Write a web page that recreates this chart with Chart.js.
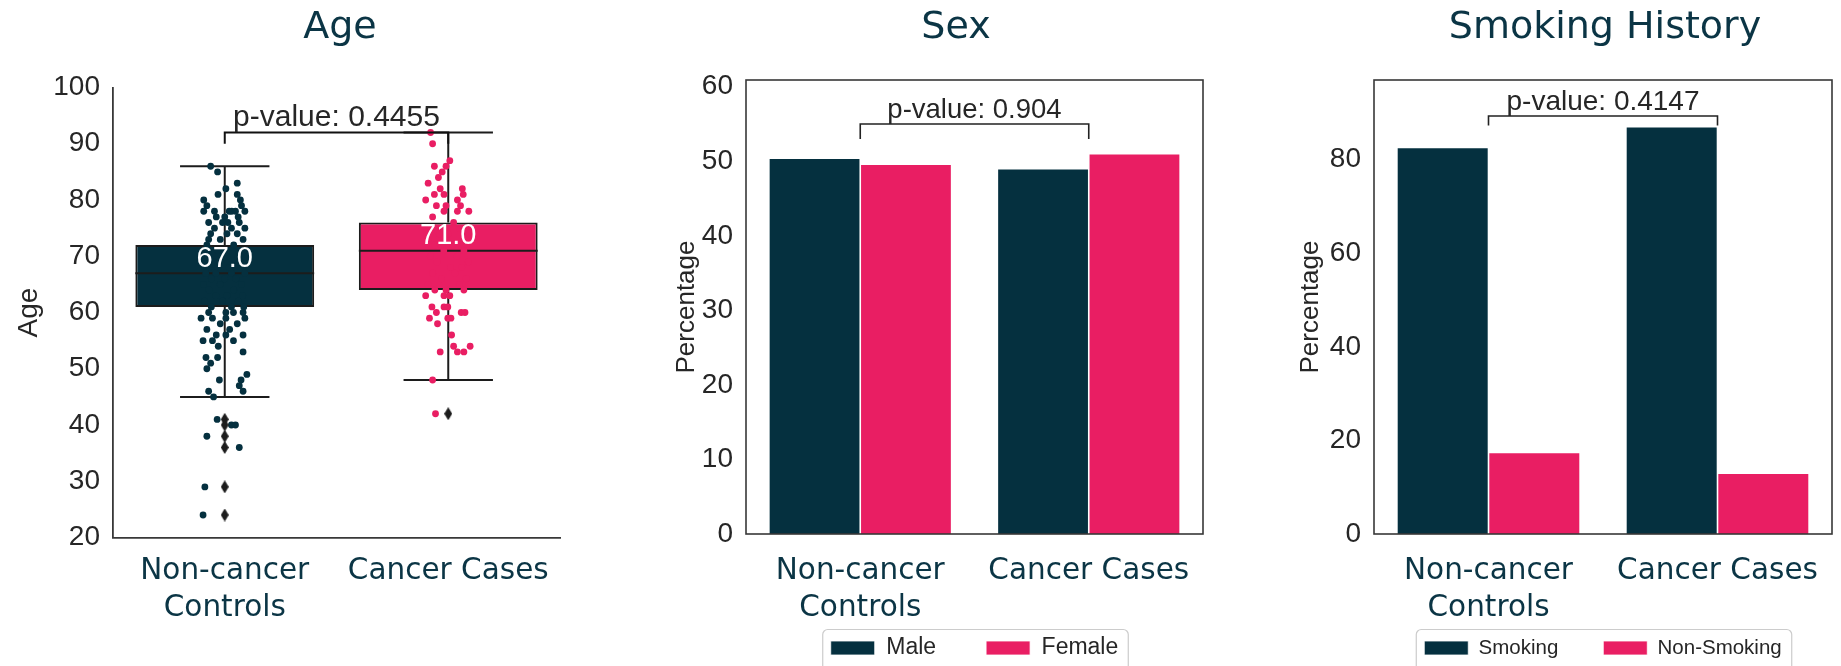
<!DOCTYPE html>
<html>
<head>
<meta charset="utf-8">
<script src="https://cdn.jsdelivr.net/npm/chart.js@4.4.1/dist/chart.umd.min.js"></script>
<style>
  html, body { margin: 0; padding: 0; background: #ffffff; width: 1841px; height: 666px; overflow: hidden; }
  canvas { position: absolute; top: 0; }
</style>
</head>
<body>
<canvas id="ageChart"></canvas>
<canvas id="sexChart"></canvas>
<canvas id="smokingChart"></canvas>
<script>
// ---------------- data ----------------
const groups = [['Non-cancer', 'Controls'], 'Cancer Cases'];

// Age: box statistics per group
const ageTicks = [20, 30, 40, 50, 60, 70, 80, 90, 100];
const ageQ1 = [61, 64];
const ageMedian = [67, 71];
const ageQ3 = [72, 76];
const ageWhiskerLow = [45, 48];
const ageWhiskerHigh = [86, 92];
const ageOutliers = [[41, 40, 38, 36, 29, 24], [42]];
const ageBracket = [90, 92];
const agePValue = 'p-value: 0.4455';

// Age: individual subjects, [horizontal jitter, age]
const controlAges = [
  [-0.063, 86], [-0.032, 85], [0.056, 83], [0.005, 82], [-0.030, 81], [0.056, 81], [-0.094, 80], [0.070, 80],
  [-0.080, 79], [0.075, 79], [-0.094, 78], [-0.046, 78], [0.020, 78], [0.031, 78], [0.048, 78], [0.090, 78],
  [-0.038, 77], [0.000, 77], [0.060, 77], [-0.072, 76], [-0.010, 76], [0.014, 76], [0.065, 76],
  [-0.046, 75], [0.030, 75], [0.090, 75], [-0.063, 74], [0.010, 74], [0.056, 74],
  [-0.072, 73], [-0.020, 73], [0.082, 73], [-0.080, 72], [0.040, 72], [-0.030, 71], [0.085, 71],
  [-0.090, 70], [0.010, 70], [0.060, 70], [-0.050, 69], [0.070, 69], [-0.070, 68], [0.020, 68],
  [-0.085, 67], [-0.040, 67], [0.030, 67], [0.090, 67], [-0.060, 66], [0.000, 66], [0.050, 66],
  [-0.095, 65], [-0.020, 65], [0.075, 65], [-0.070, 64], [0.040, 64], [-0.040, 63], [0.010, 63], [0.080, 63],
  [-0.090, 62], [-0.010, 62], [0.060, 62], [-0.060, 61], [0.030, 61], [0.085, 61],
  [-0.072, 60], [0.005, 60], [0.039, 60], [0.082, 60], [-0.106, 59], [-0.055, 59], [0.005, 59], [0.090, 59],
  [-0.020, 58], [0.056, 58], [-0.080, 57], [0.022, 57], [-0.038, 56], [0.005, 56], [0.082, 56],
  [-0.097, 55], [-0.055, 55], [0.039, 55], [-0.029, 54], [0.082, 53], [-0.084, 52], [-0.032, 52],
  [-0.063, 51], [-0.080, 50], [0.099, 49], [-0.024, 48], [0.073, 48], [0.065, 47], [-0.072, 46], [0.082, 46],
  [-0.050, 45], [-0.034, 41], [0.030, 40], [0.048, 40], [-0.080, 38], [0.065, 36], [-0.089, 29], [-0.097, 24]
];
const caseAges = [
  [-0.079, 92], [-0.070, 90], [0.007, 87], [-0.062, 86], [-0.010, 86], [-0.027, 85], [-0.044, 84], [-0.090, 83],
  [-0.036, 82], [0.063, 82], [-0.062, 81], [-0.019, 81], [0.067, 81], [-0.101, 80], [0.041, 80],
  [-0.053, 79], [-0.010, 79], [0.055, 79], [-0.019, 78], [0.041, 78], [0.092, 78], [-0.070, 77], [0.024, 76],
  [-0.080, 75], [0.050, 75], [-0.040, 74], [0.000, 74], [-0.090, 73], [0.080, 73], [-0.060, 72], [0.020, 72],
  [-0.020, 71], [0.070, 71], [-0.080, 70], [0.040, 70], [-0.050, 69], [0.090, 69], [0.010, 68], [0.060, 68],
  [-0.070, 67], [0.030, 67], [-0.030, 66], [0.080, 66], [-0.090, 65], [0.050, 65], [-0.060, 64], [-0.010, 64], [0.070, 64],
  [-0.101, 63], [-0.019, 63], [0.007, 63], [-0.073, 61], [-0.019, 61], [-0.002, 61], [-0.053, 60], [0.058, 60], [0.075, 60],
  [-0.084, 59], [-0.002, 59], [0.012, 59], [-0.048, 58], [0.015, 56], [0.024, 54], [0.098, 54],
  [-0.036, 53], [0.041, 53], [0.070, 53], [-0.070, 48], [-0.057, 42]
];

// Sex (percentage of each group)
const sexTicks = [0, 10, 20, 30, 40, 50, 60];
const sexMale = [50.4, 49.0];
const sexFemale = [49.6, 51.0];
const sexBracket = [53, 55];
const sexPValue = 'p-value: 0.904';

// Smoking history (percentage of each group)
const smokingTicks = [0, 20, 40, 60, 80];
const smoking = [82.6, 87.0];
const nonSmoking = [17.4, 13.0];
const smokingBracket = [87.3, 89.3];
const smokingPValue = 'p-value: 0.4147';

// ---------------- styling ----------------
const TEAL = '#05303f';
const PINK = '#e91e63';
const INK = '#0b3545';
const GREY = '#262626';
const SPINE = '#383838';
const BOX_EDGE = '#1c1c1c';
const SANS = '"Liberation Sans", Arial, sans-serif';
const VERDANA_LIKE = '"DejaVu Sans", Verdana, sans-serif';

const TITLE_SIZE = 38, TITLE_Y = 28;
const XTICK_SIZE = 29.5, XTICK_LH = 1.26, XTICK_FIRST_LINE_Y = 571.5;
const YTITLE_LH = 1.2;
const LEGEND_BOX_W = 44, LEGEND_BOX_H = 14;

// panel geometry on the page
const layoutAge   = { left: 0,    width: 600, areaLeft: 113,  areaRight: 560,  top: 87.5, bottom: 537.5,
                      titleX: 340,  yTitleX: 29,   yTitleSize: 28 };
const layoutSex   = { left: 600,  width: 640, areaLeft: 746,  areaRight: 1203, top: 80,   bottom: 534,
                      titleX: 956,  yTitleX: 687,  yTitleSize: 26, legendMidY: 648 };
const layoutSmoke = { left: 1240, width: 601, areaLeft: 1374, areaRight: 1832, top: 80,   bottom: 534,
                      titleX: 1605, yTitleX: 1311, yTitleSize: 26, legendMidY: 648 };

// thin diamond used for box-plot fliers
function thinDiamond(w, h, color) {
  const c = document.createElement('canvas');
  c.width = w; c.height = h;
  const g = c.getContext('2d');
  g.fillStyle = color;
  g.beginPath();
  g.moveTo(w / 2, 0); g.lineTo(w, h / 2); g.lineTo(w / 2, h); g.lineTo(0, h / 2);
  g.closePath(); g.fill();
  return c;
}
const flierMarker = thinDiamond(8, 13, BOX_EDGE);

// whiskers, caps and median segments of a box, separated by gaps
function boxSegments(i) {
  const gap = { x: i, y: null };
  return [
    { x: i - 0.4, y: ageMedian[i] }, { x: i + 0.4, y: ageMedian[i] }, gap,
    { x: i, y: ageQ3[i] }, { x: i, y: ageWhiskerHigh[i] }, gap,
    { x: i - 0.2, y: ageWhiskerHigh[i] }, { x: i + 0.2, y: ageWhiskerHigh[i] }, gap,
    { x: i, y: ageQ1[i] }, { x: i, y: ageWhiskerLow[i] }, gap,
    { x: i - 0.2, y: ageWhiskerLow[i] }, { x: i + 0.2, y: ageWhiskerLow[i] }, gap
  ];
}

function bracket(b) {
  return [{ x: 0, y: b[0] }, { x: 0, y: b[1] }, { x: 1, y: b[1] }, { x: 1, y: b[0] }];
}

const atGroups = values => values.map((v, i) => ({ x: i, y: v }));

// panel heading
const panelTitle = {
  id: 'panelTitle',
  afterDraw(chart, args, opts) {
    const ctx = chart.ctx;
    ctx.save();
    ctx.font = TITLE_SIZE + 'px ' + VERDANA_LIKE;
    ctx.fillStyle = INK;
    ctx.textAlign = 'center';
    ctx.textBaseline = 'middle';
    ctx.fillText(opts.text, opts.x, opts.y);
    ctx.restore();
  }
};

// p-value text above the bracket and median labels inside the boxes
const annotate = {
  id: 'annotate',
  afterDatasetsDraw(chart, args, opts) {
    const { ctx } = chart;
    const xs = chart.scales.x, ys = chart.scales.y;
    ctx.save();
    ctx.textAlign = 'center';
    ctx.textBaseline = 'bottom';
    if (opts.medians) {
      ctx.font = opts.medianSize + 'px ' + SANS;
      ctx.fillStyle = '#ffffff';
      opts.medians.forEach((m, i) => {
        ctx.fillText(m.toFixed(1), xs.getPixelForValue(i), ys.getPixelForValue(m));
      });
    }
    ctx.font = opts.size + 'px ' + SANS;
    ctx.fillStyle = GREY;
    ctx.fillText(opts.text, xs.getPixelForValue(0.5), ys.getPixelForValue(opts.bracketTop) + opts.lift);
    ctx.restore();
  }
};

// closed box around the plotting area
const plotFrame = {
  id: 'plotFrame',
  afterDatasetsDraw(chart, args, opts) {
    if (!opts.show) return;
    const a = chart.chartArea, ctx = chart.ctx;
    ctx.save();
    ctx.strokeStyle = SPINE;
    ctx.lineWidth = 1.6;
    ctx.strokeRect(a.left, a.top, a.right - a.left, a.bottom - a.top);
    ctx.restore();
  }
};

// legend sits just under the category labels, inside a rounded frame
const legendPlacement = {
  id: 'legendPlacement',
  beforeDraw(chart, args, opts) {
    const lg = chart.legend;
    if (!lg || !opts.midY || !lg.legendHitBoxes.length) return;
    const hb = lg.legendHitBoxes;
    const shift = opts.midY - (hb[0].top + hb[0].height / 2);
    lg.top += shift;
    lg.bottom += shift;
    hb.forEach(h => { h.top += shift; });
  },
  afterDraw(chart, args, opts) {
    const lg = chart.legend;
    if (!lg || !opts.midY || !lg.legendHitBoxes.length) return;
    const hb = lg.legendHitBoxes;
    const left = Math.min(...hb.map(h => h.left)) - 8;
    const right = Math.max(...hb.map(h => h.left + h.width)) + 10;
    const top = opts.midY - 18.5;
    const ctx = chart.ctx;
    ctx.save();
    ctx.strokeStyle = '#cccccc';
    ctx.lineWidth = 1.2;
    ctx.beginPath();
    ctx.roundRect(left, top, right - left, chart.height - top + 20, 5);
    ctx.stroke();
    ctx.restore();
  }
};

function buildPanel(canvasId, f, spec) {
  let legendH = 0, xAxisH, canvasH;
  if (spec.legend) {
    const itemH = Math.max(spec.legend.size, LEGEND_BOX_H);
    legendH = itemH + spec.legend.gap + 10;
    xAxisH = 110;
    canvasH = Math.ceil(f.bottom + xAxisH + legendH);
  } else {
    canvasH = 666;
    xAxisH = canvasH - f.bottom;
  }
  const canvas = document.getElementById(canvasId);
  canvas.width = f.width;
  canvas.height = canvasH;
  canvas.style.left = f.left + 'px';
  canvas.style.width = f.width + 'px';
  canvas.style.height = canvasH + 'px';

  const spineBorder = spec.openAxes
    ? { display: true, color: SPINE, width: 1.8 }
    : { display: false };

  return new Chart(canvas, {
    type: 'bar',
    data: { datasets: spec.datasets },
    options: {
      responsive: false,
      animation: false,
      events: [],
      devicePixelRatio: 1,
      layout: { padding: { left: 0, top: f.top, bottom: canvasH - f.bottom - xAxisH - legendH, right: f.left + f.width - f.areaRight } },
      scales: {
        x: {
          type: 'linear',
          min: -0.5, max: 1.5,
          offset: false,
          grid: { display: false, drawTicks: false },
          border: spineBorder,
          afterBuildTicks: s => { s.ticks = groups.map((g, i) => ({ value: i })); },
          ticks: {
            color: INK,
            font: { family: VERDANA_LIKE, size: XTICK_SIZE, lineHeight: XTICK_LH },
            padding: XTICK_FIRST_LINE_Y - f.bottom - XTICK_SIZE * XTICK_LH / 2,
            autoSkip: false, maxRotation: 0, minRotation: 0,
            callback: v => groups[v]
          },
          afterFit: s => { s.height = xAxisH; }
        },
        y: {
          type: 'linear',
          min: spec.yMin, max: spec.yMax,
          grid: { display: false, drawTicks: false },
          border: spineBorder,
          afterBuildTicks: s => { s.ticks = spec.yTicks.map(v => ({ value: v })); },
          ticks: { color: GREY, font: { family: SANS, size: 28 }, padding: 13 },
          title: {
            display: true, text: spec.yTitle, color: GREY,
            font: { family: SANS, size: f.yTitleSize, lineHeight: YTITLE_LH },
            padding: { top: f.yTitleX - f.left - f.yTitleSize * YTITLE_LH / 2, bottom: 0 }
          },
          afterFit: s => { s.width = f.areaLeft - f.left; }
        }
      },
      plugins: {
        title: { display: false },
        legend: spec.legend ? {
          display: true, position: 'bottom', fullSize: false, align: 'center',
          labels: {
            boxWidth: LEGEND_BOX_W, boxHeight: LEGEND_BOX_H, padding: spec.legend.gap, color: GREY,
            font: { family: SANS, size: spec.legend.size },
            filter: item => item.datasetIndex < 2
          }
        } : { display: false },
        tooltip: { enabled: false },
        panelTitle: { text: spec.title, x: f.titleX - f.left, y: TITLE_Y },
        annotate: spec.annotate,
        plotFrame: { show: !spec.openAxes },
        legendPlacement: { midY: spec.legend ? f.legendMidY : 0 }
      }
    },
    plugins: [panelTitle, annotate, plotFrame, legendPlacement]
  });
}

// ---------------- Age: box plot with jittered subjects ----------------
buildPanel('ageChart', layoutAge, {
  title: 'Age', yTitle: 'Age', yMin: 20, yMax: 100, yTicks: ageTicks, openAxes: true,
  annotate: { text: agePValue, size: 30, bracketTop: ageBracket[1], lift: 0, medians: ageMedian, medianSize: 29 },
  datasets: [
    {
      label: 'box', data: ageQ1.map((q, i) => ({ x: i, y: [q, ageQ3[i]] })),
      backgroundColor: [TEAL, PINK], borderColor: BOX_EDGE, borderWidth: 2, borderSkipped: false,
      barPercentage: 1, categoryPercentage: 0.8, order: 4
    },
    {
      type: 'line', label: 'whiskers',
      data: [...boxSegments(0), ...boxSegments(1)],
      borderColor: BOX_EDGE, borderWidth: 2, pointRadius: 0, spanGaps: false, order: 3
    },
    {
      type: 'scatter', label: 'controls',
      data: controlAges.map(([j, a]) => ({ x: 0 + j, y: a })),
      backgroundColor: TEAL, borderWidth: 0, pointRadius: 3.4, order: 2
    },
    {
      type: 'scatter', label: 'cases',
      data: caseAges.map(([j, a]) => ({ x: 1 + j, y: a })),
      backgroundColor: PINK, borderWidth: 0, pointRadius: 3.4, order: 2
    },
    {
      type: 'scatter', label: 'outliers',
      data: ageOutliers.flatMap((vals, i) => vals.map(v => ({ x: i, y: v }))),
      pointStyle: flierMarker, pointRadius: 6, order: 1
    },
    {
      type: 'line', label: 'bracket', data: bracket(ageBracket),
      borderColor: '#111111', borderWidth: 2, pointRadius: 0, order: 0
    }
  ]
});

// ---------------- Sex ----------------
buildPanel('sexChart', layoutSex, {
  title: 'Sex', yTitle: 'Percentage', yMin: 0, yMax: 60.9, yTicks: sexTicks, openAxes: false,
  legend: { size: 23, gap: 50 },
  annotate: { text: sexPValue, size: 27.5, bracketTop: sexBracket[1], lift: 0 },
  datasets: [
    { label: 'Male', data: atGroups(sexMale), backgroundColor: TEAL, borderColor: '#ffffff', borderWidth: 0.8,
      barPercentage: 1, categoryPercentage: 0.8, order: 1 },
    { label: 'Female', data: atGroups(sexFemale), backgroundColor: PINK, borderColor: '#ffffff', borderWidth: 0.8,
      barPercentage: 1, categoryPercentage: 0.8, order: 1 },
    { type: 'line', label: 'bracket', data: bracket(sexBracket),
      borderColor: '#222222', borderWidth: 1.6, pointRadius: 0, order: 0 }
  ]
});

// ---------------- Smoking history ----------------
buildPanel('smokingChart', layoutSmoke, {
  title: 'Smoking History', yTitle: 'Percentage', yMin: 0, yMax: 97, yTicks: smokingTicks, openAxes: false,
  legend: { size: 20.5, gap: 45 },
  annotate: { text: smokingPValue, size: 28, bracketTop: smokingBracket[1], lift: 0 },
  datasets: [
    { label: 'Smoking', data: atGroups(smoking), backgroundColor: TEAL, borderColor: '#ffffff', borderWidth: 0.8,
      barPercentage: 1, categoryPercentage: 0.8, order: 1 },
    { label: 'Non-Smoking', data: atGroups(nonSmoking), backgroundColor: PINK, borderColor: '#ffffff', borderWidth: 0.8,
      barPercentage: 1, categoryPercentage: 0.8, order: 1 },
    { type: 'line', label: 'bracket', data: bracket(smokingBracket),
      borderColor: '#222222', borderWidth: 1.6, pointRadius: 0, order: 0 }
  ]
});
</script>
</body>
</html>
